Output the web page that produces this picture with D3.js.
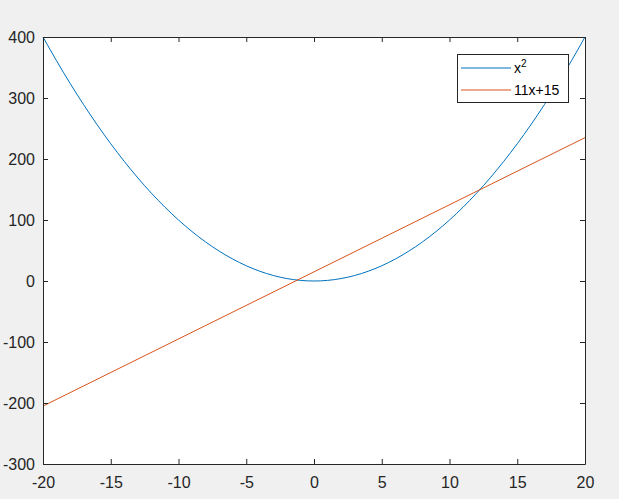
<!DOCTYPE html>
<meta charset="utf-8">

<style type="text/css">

body {
  margin: 0;
  background: #f0f0f0;
}

/* plot lines: thin, no fill */
.line {
  fill: none;
  stroke-width: 1;
}

.axis text {
  font-family: "Liberation Sans", Arial, sans-serif;
  font-size: 16px;
  fill: #262626;
}

.axis path, .axis line {
  stroke: #262626;
}

</style>
<body>
</body>

<script src="https://d3js.org/d3.v7.min.js"></script>
<script>

// values
var xTicks = [-20, -15, -10, -5, 0, 5, 10, 15, 20];
var yTicks = [-300, -200, -100, 0, 100, 200, 300, 400];

var xs = [-20, -19, -18, -17, -16, -15, -14, -13, -12, -11, -10, -9, -8, -7, -6, -5, -4, -3, -2, -1, 0,
          1, 2, 3, 4, 5, 6, 7, 8, 9, 10, 11, 12, 13, 14, 15, 16, 17, 18, 19, 20];
var squareVals = [400, 361, 324, 289, 256, 225, 196, 169, 144, 121, 100, 81, 64, 49, 36, 25, 16, 9, 4, 1, 0,
                  1, 4, 9, 16, 25, 36, 49, 64, 81, 100, 121, 144, 169, 196, 225, 256, 289, 324, 361, 400];
var lineXs = [-20, 20];
var lineVals = [-205, 235];

var seriesNames = ["x2", "11x+15"];
var seriesColors = ["#0072bd", "#d95319"];

// plot box
var margin = {top: 37, right: 34, bottom: 35, left: 43}
  , width = 619 - margin.left - margin.right
  , height = 499 - margin.top - margin.bottom;

var xScale = d3.scaleLinear()
    .domain([-20, 20])
    .range([0, width]);

var yScale = d3.scaleLinear()
    .domain([-300, 400])
    .range([height, 0]);

// plain hyphen for negatives, like the original
var fmt = function(d) { return String(d); };

var svg = d3.select("body").append("svg")
    .attr("width", 619)
    .attr("height", 499)
  .append("g")
    .attr("transform", "translate(" + margin.left + "," + margin.top + ")");

// white plotting area
svg.append("rect")
    .attr("width", width)
    .attr("height", height)
    .attr("fill", "#fff");

var curve = d3.line()
    .x(function(d) { return xScale(d[0]); })
    .y(function(d) { return yScale(d[1]); })
    .curve(d3.curveNatural);

var straight = d3.line()
    .x(function(d) { return xScale(d[0]); })
    .y(function(d) { return yScale(d[1]); });

svg.append("path")
    .datum(d3.zip(xs, squareVals))
    .attr("class", "line")
    .attr("stroke", seriesColors[0])
    .attr("d", curve);

svg.append("path")
    .datum(d3.zip(lineXs, lineVals))
    .attr("class", "line")
    .attr("stroke", seriesColors[1])
    .attr("d", straight);

// axes, ticks pointing inward (matlab style) on all four sides
svg.append("g")
    .attr("class", "axis")
    .attr("transform", "translate(0," + height + ")")
    .call(d3.axisBottom(xScale).tickValues(xTicks).tickFormat(fmt).tickSizeInner(-5).tickSizeOuter(0).tickPadding(13));

svg.append("g")
    .attr("class", "axis")
    .call(d3.axisLeft(yScale).tickValues(yTicks).tickFormat(fmt).tickSizeInner(-5).tickSizeOuter(0).tickPadding(8));

svg.append("g")
    .attr("class", "axis")
    .call(d3.axisTop(xScale).tickValues(xTicks).tickSizeInner(-5).tickSizeOuter(0).tickFormat(""));

svg.append("g")
    .attr("class", "axis")
    .attr("transform", "translate(" + width + ",0)")
    .call(d3.axisRight(yScale).tickValues(yTicks).tickSizeInner(-5).tickSizeOuter(0).tickFormat(""));

// legend
var legend = svg.append("g")
    .attr("transform", "translate(" + (457 - margin.left) + "," + (54 - margin.top) + ")");

legend.append("rect")
    .attr("x", 0.5)
    .attr("y", 0.5)
    .attr("width", 111)
    .attr("height", 48)
    .attr("fill", "#fff")
    .attr("stroke", "#262626");

var rows = legend.selectAll(".row")
    .data(seriesNames)
  .enter().append("g")
    .attr("class", "row")
    .attr("transform", function(d, i) { return "translate(0," + (14 + i * 22) + ")"; });

rows.append("line")
    .attr("x1", 4)
    .attr("x2", 54)
    .attr("stroke", function(d, i) { return seriesColors[i]; })
    .attr("stroke-width", 1);

var labels = rows.append("text")
    .attr("x", 57)
    .attr("y", 5)
    .style("font-family", "\"Liberation Sans\", Arial, sans-serif")
    .style("font-size", "14px")
    .style("fill", "#000");

labels.filter(function(d, i) { return i === 0; })
    .text("x")
  .append("tspan")
    .attr("dy", -6)
    .style("font-size", "10px")
    .text("2");

labels.filter(function(d, i) { return i === 1; })
    .text(function(d) { return d; });

</script>
